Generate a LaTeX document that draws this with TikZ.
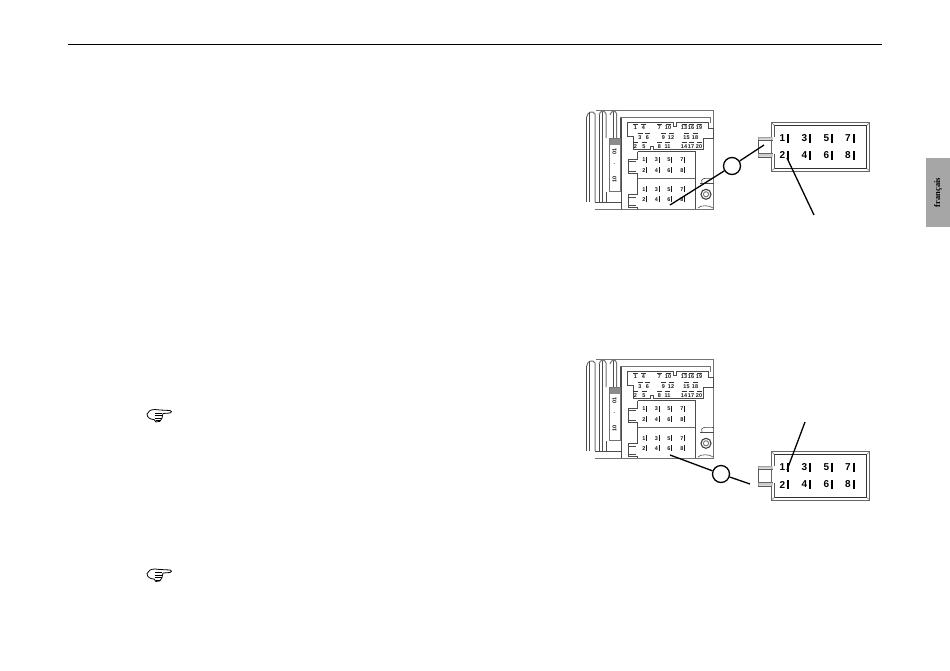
\documentclass[tikz,border=0pt]{standalone}
\usepackage{fontspec}
\setsansfont{Liberation Sans}
\setmainfont{Liberation Serif}
\tikzset{
  x=1pt,y=-1pt,
  thinl/.style={draw=black!70,line width=0.6pt},
  greyl/.style={draw=black!55,line width=1pt},
  lead/.style={draw=black,line width=1.3pt},
  ring/.style={circle,draw=black,line width=1.3pt,minimum size=17pt,inner sep=0pt,fill=white},
  tiny/.style={font=\sffamily\bfseries\fontsize{5.5}{6}\selectfont,inner sep=0pt,text=black!90},
  pinb/.style={font=\sffamily\bfseries\fontsize{10}{11}\selectfont,inner sep=0pt,text=black},
}
\newcommand{\tinypin}[3]{\node[tiny] at (#1,#2+0.5) {#3};\draw[black!80,line width=0.8pt] (#1-2.5,#2-3.2) -- (#1+2.5,#2-3.2);}
\newcommand{\tinyrow}[3]{\node[tiny] at (#1,#2) {#3};\fill[black!90] (#1+2.2,#2-3) rectangle (#1+3.4,#2+3);}
\tikzset{
  radio/.pic={
    % ribs
    \draw[greyl] (16.7,22) .. controls (17,17) and (23,15) .. (25,19) -- (25,107);
    \draw[thinl] (16.7,22) -- (16.7,107) (19.5,17) -- (19.5,107);
    \draw[greyl] (29,20) .. controls (30,15) and (35,15) .. (36,19) -- (36,43);
    \draw[thinl] (29,20) -- (29,107) (32.5,17) -- (32.5,107);
    \draw[greyl] (40,20) .. controls (41,15) and (46,15) .. (46.7,19) -- (46.7,43);
    \draw[thinl] (43.3,17) -- (43.3,43);
    \draw[thinl] (36,97) -- (36,107);
    % casing
    \draw[greyl] (26,15.5) -- (143.5,15.5) -- (143.5,115);
    \draw[greyl] (50,22.5) -- (140,22.5) -- (140,28);
    \draw[thinl] (50,22.5) -- (50,43.3);
    \draw[thinl] (51.7,22.5) -- (51.7,114);
    % label panel
    \fill[black!45] (39.3,43.3) rectangle (50,50);
    \draw[greyl] (39.3,43.3) rectangle (50,96.7);
    \node[tiny,rotate=90] at (44.5,56) {01};
    \node[tiny] at (44.5,69) {.};
    \node[tiny,rotate=90] at (44.5,84) {10};
    % 20-pin block
    \draw[black!70,line width=0.9pt] (57.3,27.7) -- (103.3,27.7) -- (103.3,31) -- (106.7,31) -- (106.7,27.7) -- (138.3,27.7) -- (138.3,33.3) -- (143.3,33.3) -- (143.3,43.3) -- (133.3,43.3) -- (133.3,54.3) -- (83.3,54.3) -- (83.3,51.5) -- (80,51.5) -- (80,54.3) -- (63.3,54.3) -- (63.3,41.7) -- (57.3,41.7) -- cycle;
    \foreach \a/\t in {65.5/1,73.5/4,89.5/7,98/10,114/13,121/16,129/19}{\tinypin{\a}{32.5}{\t}}
    \foreach \a/\t in {70/3,77.5/6,93.5/9,101/12,116.5/15,125/18}{\tinypin{\a}{42}{\t}}
    \foreach \a/\t in {65.5/2,74/5,89.5/8,97.5/11,114/14,121/17,129/20}{\tinypin{\a}{51}{\t}}
    % 8-pin blocks
    \draw[thinl] (67.7,56.7) -- (125,56.7) -- (125,114);
    \draw[thinl] (67.7,56.7) -- (67.7,64) -- (58.3,64) -- (58.3,78.3) -- (67.7,78.3) -- (67.7,114);
    \draw[thinl] (58.3,66.5) -- (66,66.5) (58.3,75.8) -- (66,75.8);
    \draw[thinl] (67.7,99.7) -- (58.3,99.7) -- (58.3,112.7) -- (67.7,112.7);
    \draw[thinl] (58.3,102.2) -- (66,102.2) (58.3,110.2) -- (66,110.2);
    \fill[white] (67,98) rectangle (68.4,114);
    \draw[thinl] (67.7,98) -- (67.7,100) (67.7,112) -- (67.7,114);
    \draw[black!60,line width=1.2pt] (67.7,83.3) -- (125,83.3);
    \foreach \a/\t in {74/1,86.5/3,99/5,112/7}{\tinyrow{\a}{64.5}{\t}\tinyrow{\a}{94.3}{\t}}
    \foreach \a/\t in {74/2,86.5/4,99/6,112/8}{\tinyrow{\a}{75.3}{\t}\tinyrow{\a}{104.3}{\t}}
    % bottom lines
    \draw[black!55,line width=1.1pt] (25,114.5) -- (143.5,114.5);
    \draw[thinl] (25,107.3) -- (51.7,107.3);
    % jack
    \draw[thinl] (132,88) .. controls (130,83) and (134,83) .. (143.5,83.5);
    \draw[thinl] (130,88) -- (143.5,88);
    \draw[black!75,line width=1.1pt] (136,99.3) circle (5);
    \draw[black!55,line width=0.9pt] (136,99.3) circle (2.6);
    \draw[thinl] (128,113) .. controls (130,110) and (140,110) .. (143,113);
  },
  bigconn/.pic={
    \draw[black!60,line width=1pt] (771.3,122.7) rectangle (869.7,171);
    \draw[black!80,line width=1pt] (774.3,125.5) -- (866.7,125.5) -- (866.7,168.5) -- (774.3,168.5);
    \draw[black!65,line width=0.7pt] (774.3,125.5) -- (774.3,137) (774.3,154) -- (774.3,168.5);
    \draw[black!55,line width=0.5pt] (771.3,122.7) -- (774.3,125.5) (869.7,122.7) -- (866.7,125.5) (869.7,171) -- (866.7,168.5) (771.3,171) -- (774.3,168.5);
    \fill[white] (771.9,138) rectangle (773.3,154);
    \draw[black!65,line width=0.8pt] (771.3,137) -- (758,137) -- (758,157) -- (771.3,157);
    \draw[black!65,line width=0.8pt] (758,140) -- (773,140) (758,153.5) -- (773,153.5);
    \fill[black!20] (758.4,137.4) rectangle (773,139.6) (758.4,153.9) rectangle (773,156.6);
    \foreach \a/\t in {782.5/1,804.5/3,826.5/5,848/7}{
      \node[pinb] at (\a,138) {\t};
      \fill (\a+4.6,133.5) rectangle (\a+6.7,142.5);}
    \foreach \a/\t in {782.5/2,804.5/4,826.5/6,848/8}{
      \node[pinb] at (\a,155.5) {\t};
      \fill (\a+4.6,151) rectangle (\a+6.7,160);}
  },
  handicon/.pic={
    \draw[black,line width=0.8pt,line join=round] (0,2) .. controls (1,-1) and (4,-2.5) .. (8,-2.5) -- (13,-2) -- (23,-1.5) .. controls (25,-1.5) and (25,1) .. (23,1) -- (16,1.5) -- (15,6) .. controls (14.5,9) and (12,10.5) .. (9,10) -- (7,7.5) .. controls (4,7.5) and (0,6) .. (0,2) -- cycle;
    \draw[black,line width=0.8pt] (8,1) -- (15,1) (7.5,3.5) -- (15,3.5) (7.5,6) -- (14.5,6) (8.5,8.5) -- (13,8.5);
  }
}
\begin{document}
\begin{tikzpicture}
\useasboundingbox (0,0) rectangle (950,670);
\fill[white] (0,0) rectangle (950,670);
\coordinate (ruleL) at (68,44.5);
\coordinate (ruleR) at (882,44.5);
\draw[black,line width=1.6pt] (ruleL) -- (ruleR);
\node[fill=black!35,minimum width=24pt,minimum height=69pt,inner sep=0pt] (tab) at (938,192.5) {};
\node[rotate=90,font=\rmfamily\bfseries\fontsize{8.5}{9}\selectfont,text=black] at (tab) {français};

\pic at (570,95) {radio};
\pic at (0,0) {bigconn};
\node[ring] (c1) at (732,166) {};
\coordinate (a1) at (670,205);
\coordinate (b1) at (764,145);
\coordinate (d1) at (787,158);
\coordinate (e1) at (814,215);
\draw[lead] (a1) -- (c1) (c1) -- (b1);
\draw[lead] (d1) -- (e1);

\pic at (570,344) {radio};
\pic at (0,329) {bigconn};
\node[ring] (c2) at (721,474) {};
\coordinate (a2) at (670,455);
\coordinate (b2) at (750,484);
\coordinate (d2) at (787,470);
\coordinate (e2) at (805,422);
\draw[lead] (a2) -- (c2) (c2) -- (b2);
\draw[lead] (d2) -- (e2);

\pic at (147,412) {handicon};
\pic at (147,571.5) {handicon};
\end{tikzpicture}
\end{document}
